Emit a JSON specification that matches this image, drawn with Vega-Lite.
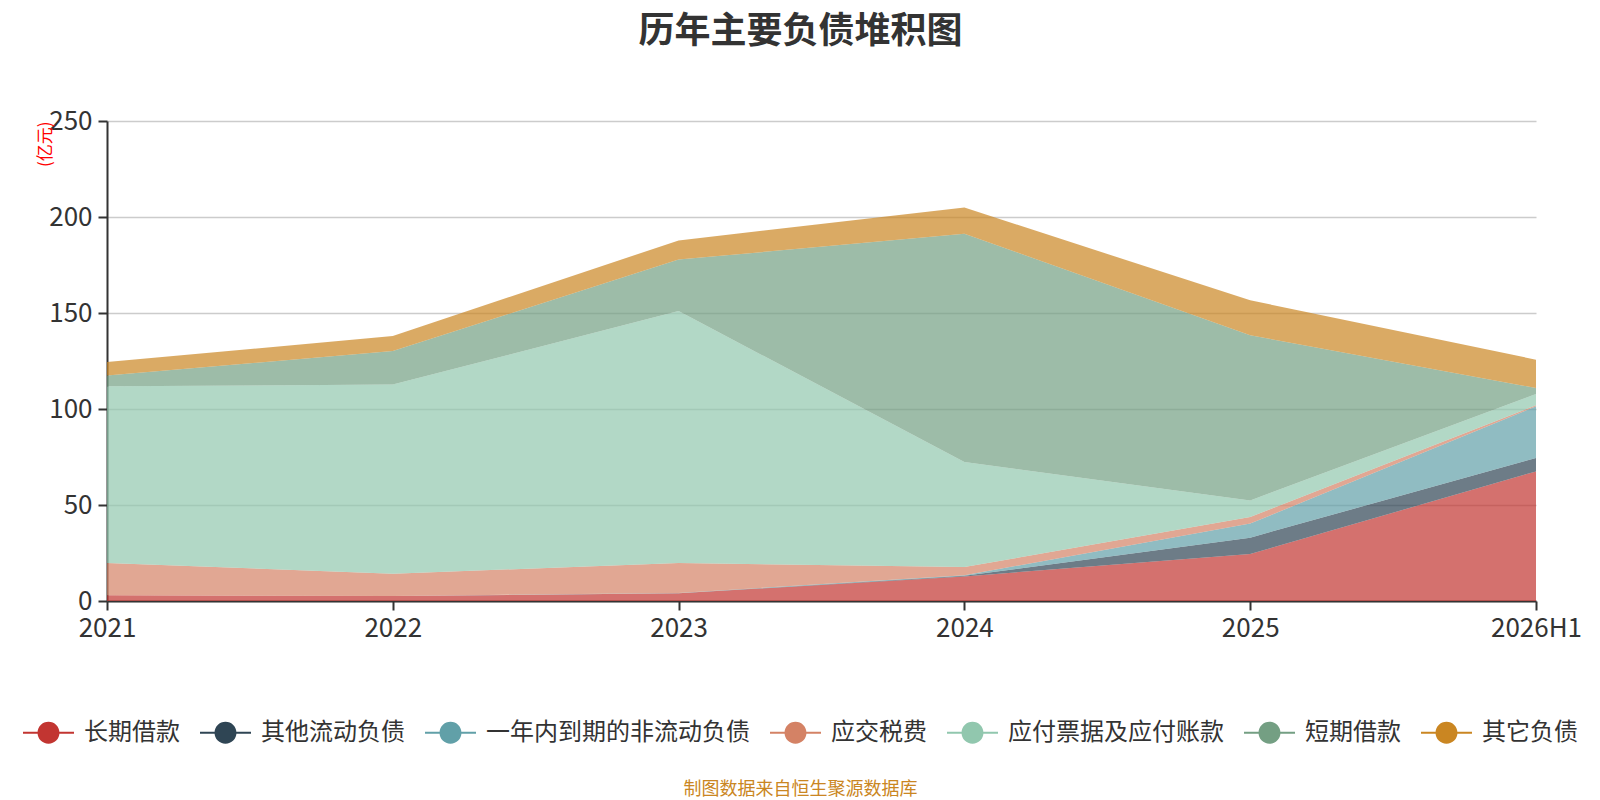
{
  "$schema": "https://vega.github.io/schema/vega-lite/v6.json",
  "description": "历年主要负债堆积图 - stacked area of main liabilities by year",
  "autosize": "none",
  "width": 1429,
  "height": 480,
  "padding": {"left": 107, "top": 121, "right": 64, "bottom": 199},
  "background": "#ffffff",
  "config": {
    "font": "Noto Sans CJK SC",
    "view": {"stroke": null}
  },
  "title": {
    "text": "历年主要负债堆积图",
    "fontSize": 36,
    "fontWeight": "bold",
    "color": "#333333",
    "anchor": "middle",
    "dx": -21,
    "offset": 57
  },
  "data": {
    "values": [
      {"year": "2021", "item": "长期借款", "k": 1, "value": 3.0},
      {"year": "2021", "item": "其他流动负债", "k": 2, "value": 0},
      {"year": "2021", "item": "一年内到期的非流动负债", "k": 3, "value": 0},
      {"year": "2021", "item": "应交税费", "k": 4, "value": 16.8},
      {"year": "2021", "item": "应付票据及应付账款", "k": 5, "value": 92.0},
      {"year": "2021", "item": "短期借款", "k": 6, "value": 5.6},
      {"year": "2021", "item": "其它负债", "k": 7, "value": 7.1},
      {"year": "2022", "item": "长期借款", "k": 1, "value": 2.6},
      {"year": "2022", "item": "其他流动负债", "k": 2, "value": 0},
      {"year": "2022", "item": "一年内到期的非流动负债", "k": 3, "value": 0},
      {"year": "2022", "item": "应交税费", "k": 4, "value": 11.6},
      {"year": "2022", "item": "应付票据及应付账款", "k": 5, "value": 98.5},
      {"year": "2022", "item": "短期借款", "k": 6, "value": 17.5},
      {"year": "2022", "item": "其它负债", "k": 7, "value": 7.8},
      {"year": "2023", "item": "长期借款", "k": 1, "value": 4.0},
      {"year": "2023", "item": "其他流动负债", "k": 2, "value": 0},
      {"year": "2023", "item": "一年内到期的非流动负债", "k": 3, "value": 0.2},
      {"year": "2023", "item": "应交税费", "k": 4, "value": 15.6},
      {"year": "2023", "item": "应付票据及应付账款", "k": 5, "value": 131.2},
      {"year": "2023", "item": "短期借款", "k": 6, "value": 26.8},
      {"year": "2023", "item": "其它负债", "k": 7, "value": 10.0},
      {"year": "2024", "item": "长期借款", "k": 1, "value": 12.8},
      {"year": "2024", "item": "其他流动负债", "k": 2, "value": 0.3},
      {"year": "2024", "item": "一年内到期的非流动负债", "k": 3, "value": 0.3},
      {"year": "2024", "item": "应交税费", "k": 4, "value": 4.3},
      {"year": "2024", "item": "应付票据及应付账款", "k": 5, "value": 54.7},
      {"year": "2024", "item": "短期借款", "k": 6, "value": 118.9},
      {"year": "2024", "item": "其它负债", "k": 7, "value": 13.6},
      {"year": "2025", "item": "长期借款", "k": 1, "value": 24.5},
      {"year": "2025", "item": "其他流动负债", "k": 2, "value": 8.5},
      {"year": "2025", "item": "一年内到期的非流动负债", "k": 3, "value": 7.3},
      {"year": "2025", "item": "应交税费", "k": 4, "value": 3.45},
      {"year": "2025", "item": "应付票据及应付账款", "k": 5, "value": 8.65},
      {"year": "2025", "item": "短期借款", "k": 6, "value": 86.0},
      {"year": "2025", "item": "其它负债", "k": 7, "value": 18.2},
      {"year": "2026H1", "item": "长期借款", "k": 1, "value": 67.5},
      {"year": "2026H1", "item": "其他流动负债", "k": 2, "value": 7.0},
      {"year": "2026H1", "item": "一年内到期的非流动负债", "k": 3, "value": 26.9},
      {"year": "2026H1", "item": "应交税费", "k": 4, "value": 0.5},
      {"year": "2026H1", "item": "应付票据及应付账款", "k": 5, "value": 5.9},
      {"year": "2026H1", "item": "短期借款", "k": 6, "value": 3.1},
      {"year": "2026H1", "item": "其它负债", "k": 7, "value": 14.8}
    ]
  },
  "mark": {"type": "area", "opacity": 0.7, "strokeWidth": 0},
  "encoding": {
    "x": {
      "field": "year",
      "type": "ordinal",
      "sort": null,
      "scale": {"type": "point", "padding": 0},
      "axis": {
        "title": "制图数据来自恒生聚源数据库",
        "titleColor": "#ca8622",
        "titleFontSize": 18,
        "titleFontWeight": "normal",
        "titleX": 693,
        "titleY": 188,
        "titleAlign": "center",
        "titleBaseline": "middle",
        "labelAngle": 0,
        "labelFontSize": 26,
        "labelColor": "#333333",
        "labelPadding": 5,
        "tickSize": 9,
        "tickColor": "#333333",
        "tickWidth": 2,
        "domainColor": "#333333",
        "domainWidth": 2,
        "grid": false
      }
    },
    "y": {
      "field": "value",
      "type": "quantitative",
      "stack": "zero",
      "scale": {"domain": [0, 250]},
      "axis": {
        "title": "(亿元)",
        "titleColor": "#ff0000",
        "titleFontSize": 17,
        "titleFontWeight": "normal",
        "titleAngle": -90,
        "titleAlign": "right",
        "titleBaseline": "middle",
        "titleX": -62,
        "titleY": 0,
        "values": [0, 50, 100, 150, 200, 250],
        "labelFontSize": 26,
        "labelColor": "#333333",
        "labelPadding": 6,
        "tickSize": 9,
        "tickColor": "#333333",
        "tickWidth": 2,
        "domainColor": "#333333",
        "domainWidth": 2,
        "gridColor": "#cccccc",
        "gridWidth": 1.5
      }
    },
    "color": {
      "field": "item",
      "type": "nominal",
      "scale": {
        "domain": ["长期借款", "其他流动负债", "一年内到期的非流动负债", "应交税费", "应付票据及应付账款", "短期借款", "其它负债"],
        "range": ["#c23531", "#2f4554", "#61a0a8", "#d48265", "#91c7ae", "#749f83", "#ca8622"]
      },
      "legend": {
        "title": null,
        "orient": "none",
        "direction": "horizontal",
        "columns": 7,
        "legendX": -84,
        "legendY": 586,
        "padding": 0,
        "columnPadding": 20,
        "symbolType": "M-1,-0.04 L1,-0.04 L1,0.04 L-1,0.04 Z M0.43,0 A0.43,0.43 0 1,1 -0.43,0 A0.43,0.43 0 1,1 0.43,0 Z",
        "symbolSize": 2601,
        "symbolStrokeWidth": 0,
        "symbolOpacity": 1,
        "labelFontSize": 24,
        "labelColor": "#333333",
        "labelOffset": 10,
        "labelLimit": 400
      }
    },
    "order": {"field": "k", "type": "quantitative"},
    "tooltip": [
      {"field": "year", "type": "nominal", "title": "年份"},
      {"field": "item", "type": "nominal", "title": "项目"},
      {"field": "value", "type": "quantitative", "title": "亿元"}
    ]
  }
}
